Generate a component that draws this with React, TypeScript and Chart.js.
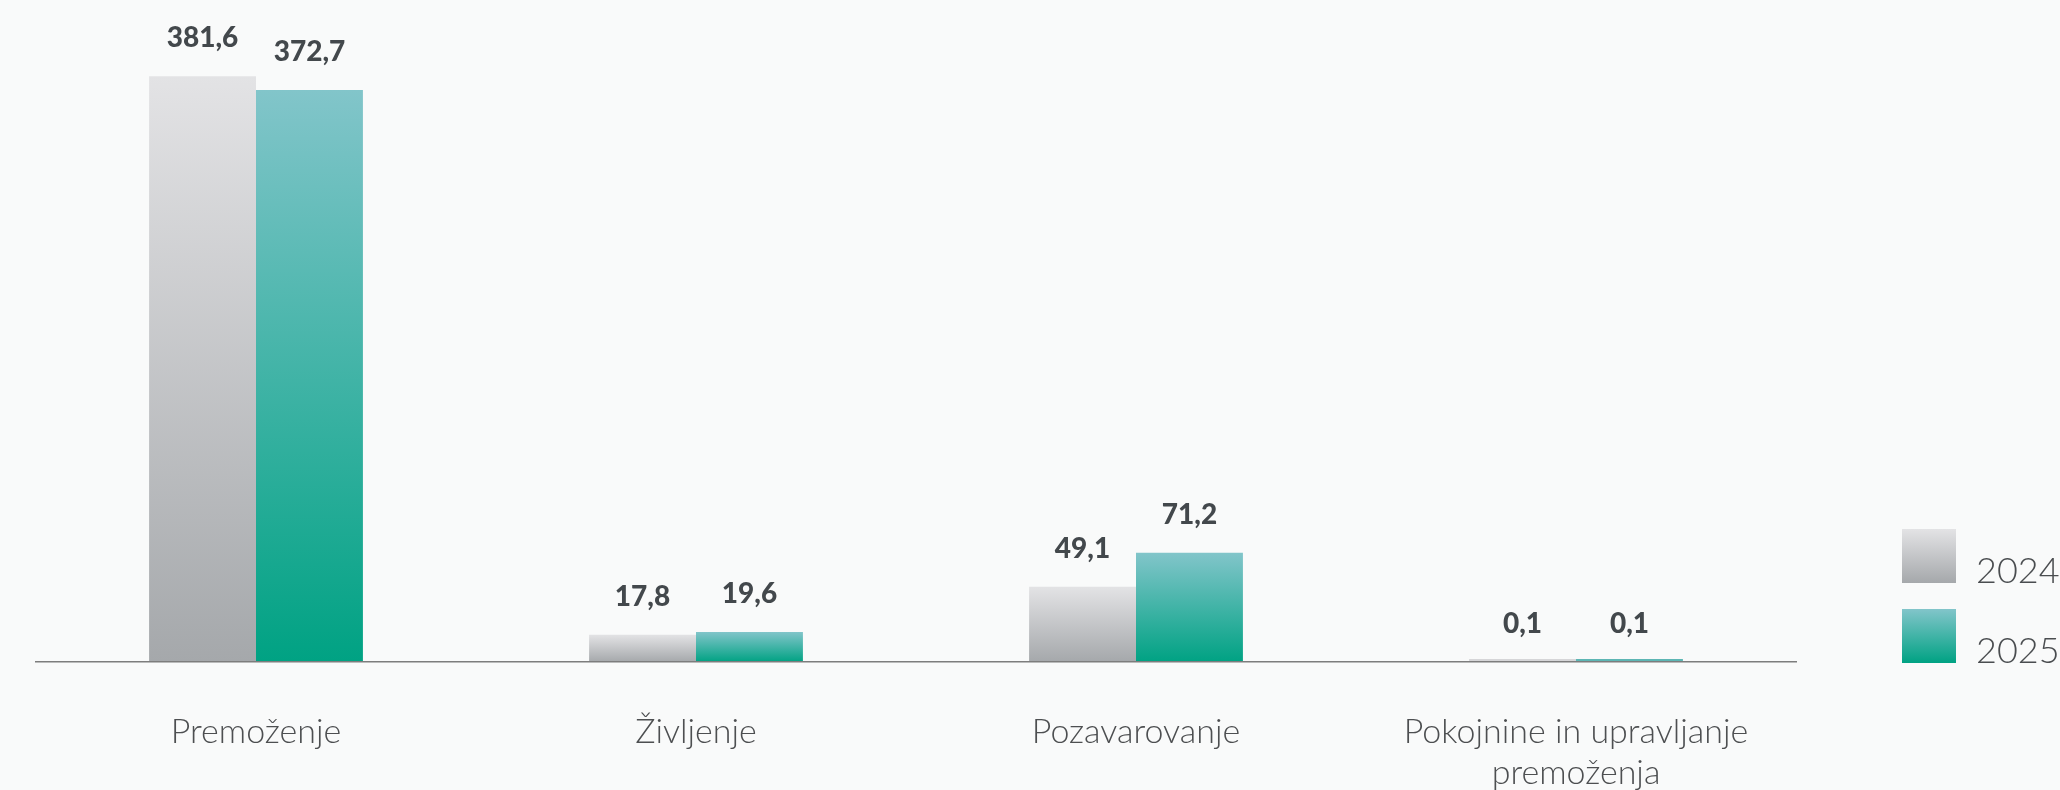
import { useEffect, useRef } from 'react';
import { Chart, registerables } from 'chart.js';

Chart.register(...registerables);

const categories: (string | string[])[] = [
  'Premoženje',
  'Življenje',
  'Pozavarovanje',
  ['Pokojnine in upravljanje', 'premoženja'],
];
const seriesLabels = ['2024', '2025'];
const values2024 = [381.6, 17.8, 49.1, 0.1];
const values2025 = [372.7, 19.6, 71.2, 0.1];
const gradient2024 = ['#e3e3e5', '#a5a8ab'];
const gradient2025 = ['#82c5ca', '#00a283'];
const tinyBarColors = ['#d6d6d8', '#5db6b4'];

const BG = '#f9fafa';

function makeGradient(ctx: any, stops: string[], tiny: string) {
  const chart = ctx.chart;
  const yScale = chart.scales && chart.scales.y;
  if (ctx.type !== 'data' || !yScale || typeof ctx.raw !== 'number') return stops[1];
  const top = yScale.getPixelForValue(ctx.raw);
  const base = yScale.getPixelForValue(0);
  if (!isFinite(top) || !isFinite(base) || Math.abs(base - top) < 2) return tiny;
  const g = chart.ctx.createLinearGradient(0, top, 0, base);
  g.addColorStop(0, stops[0]);
  g.addColorStop(1, stops[1]);
  return g;
}

const formatValue = (v: number) => v.toFixed(1).replace('.', ',');

const valueLabelPlugin = {
  id: 'valueLabels',
  afterDatasetsDraw(chart: any) {
    const ctx = chart.ctx;
    const yScale = chart.scales.y;
    ctx.save();
    ctx.font = '900 28px Lato';
    ctx.fillStyle = '#43484c';
    ctx.textAlign = 'center';
    ctx.textBaseline = 'alphabetic';
    chart.data.datasets.forEach((ds: any, di: number) => {
      const meta = chart.getDatasetMeta(di);
      meta.data.forEach((el: any, i: number) => {
        const y = yScale.getPixelForValue(ds.data[i]);
        ctx.fillText(formatValue(ds.data[i]), el.x, y - 29);
      });
    });
    ctx.restore();
  },
};

const legendPlugin = {
  id: 'customLegend',
  afterDraw(chart: any) {
    const ctx = chart.ctx;
    const area = chart.chartArea;
    const boxSize = 54;
    const boxX = area.right + 106;
    const stepsFromBottom = [80, 0];
    const grads = [gradient2024, gradient2025];
    ctx.save();
    seriesLabels.forEach((label, i) => {
      const bottom = area.bottom + 1 - stepsFromBottom[i];
      const top = bottom - boxSize;
      const g = ctx.createLinearGradient(0, top, 0, bottom);
      g.addColorStop(0, grads[i][0]);
      g.addColorStop(1, grads[i][1]);
      ctx.fillStyle = g;
      ctx.fillRect(boxX, top, boxSize, boxSize);
      ctx.font = '300 36px Lato';
      ctx.fillStyle = '#4a4d50';
      ctx.textAlign = 'left';
      ctx.textBaseline = 'alphabetic';
      ctx.fillText(label, boxX + 74, bottom);
    });
    ctx.restore();
  },
};

export default function App() {
  const canvasRef = useRef<HTMLCanvasElement | null>(null);

  useEffect(() => {
    document.body.style.margin = '0';
    document.body.style.background = BG;
    const canvas = canvasRef.current;
    if (!canvas) return;
    const chart = new Chart(canvas, {
      type: 'bar',
      data: {
        labels: categories,
        datasets: [
          {
            label: seriesLabels[0],
            data: values2024,
            backgroundColor: (c: any) => makeGradient(c, gradient2024, tinyBarColors[0]),
            borderWidth: 0,
            categoryPercentage: 0.486,
            barPercentage: 1,
            minBarLength: 3,
          },
          {
            label: seriesLabels[1],
            data: values2025,
            backgroundColor: (c: any) => makeGradient(c, gradient2025, tinyBarColors[1]),
            borderWidth: 0,
            categoryPercentage: 0.486,
            barPercentage: 1,
            minBarLength: 3,
          },
        ],
      },
      options: {
        responsive: false,
        devicePixelRatio: 1,
        animation: false,
        layout: { padding: { left: 36, right: 264, top: 48, bottom: 0 } },
        plugins: {
          legend: { display: false },
          tooltip: { enabled: false },
        },
        scales: {
          x: {
            grid: { display: false },
            border: { display: true, color: '#7d7d7d', width: 1.5, z: 1 },
            ticks: {
              color: '#4d4f51',
              font: { family: 'Lato', size: 34, weight: '300', lineHeight: 1.2 },
              padding: 42,
              maxRotation: 0,
              autoSkip: false,
            },
            afterFit: (scale: any) => {
              scale.height = 128;
            },
          },
          y: {
            display: false,
            min: 0,
            max: 400,
          },
        },
      },
      plugins: [valueLabelPlugin, legendPlugin],
    } as any);
    return () => chart.destroy();
  }, []);

  return (
    <div style={{ width: 2060, height: 790, background: BG }}>
      <canvas ref={canvasRef} width={2060} height={790} style={{ display: 'block' }} />
    </div>
  );
}
